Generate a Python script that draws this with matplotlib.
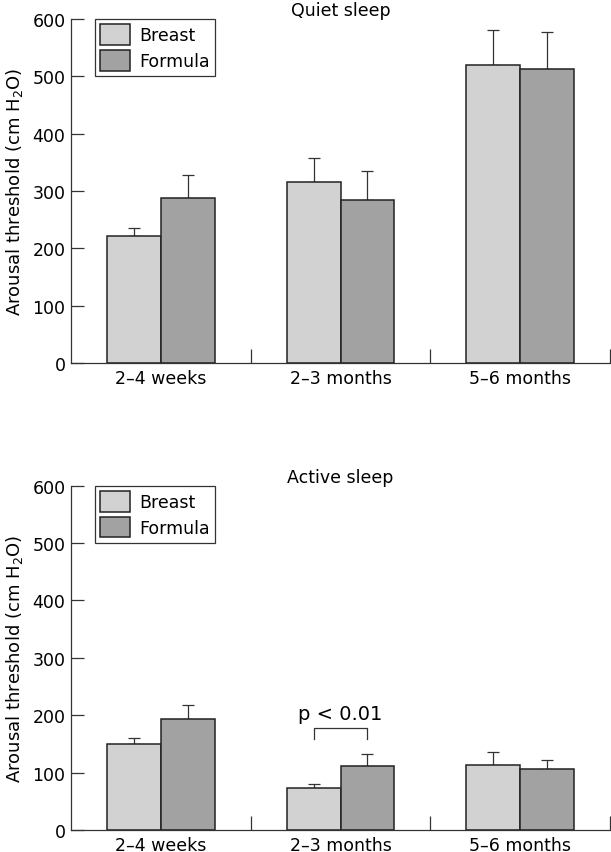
import numpy as np
import matplotlib.pyplot as plt

plt.rcParams['font.family'] = ['DejaVu Sans']
plt.rcParams['font.size'] = 12.5

groups = ['2\u20134 weeks', '2\u20133 months', '5\u20136 months']

# quiet sleep
quiet_breast = [221, 315, 520]
quiet_breast_err = [15, 43, 60]
quiet_formula = [288, 285, 512]
quiet_formula_err = [39, 49, 66]

# active sleep
active_breast = [149, 74, 114]
active_breast_err = [11, 6, 22]
active_formula = [193, 111, 107]
active_formula_err = [25, 21, 15]

breast_col = '#d2d2d2'
formula_col = '#a2a2a2'
edge = '#222222'
axcol = '#333333'


def panel(ax, title, breast, berr, formula, ferr):
    x = np.arange(len(groups))
    w = 0.3
    ax.bar(x - w/2, breast, w, color=breast_col, edgecolor=edge, linewidth=1.1,
           label='Breast', zorder=2)
    ax.bar(x + w/2, formula, w, color=formula_col, edgecolor=edge, linewidth=1.1,
           label='Formula', zorder=2)
    ax.errorbar(x - w/2, breast, yerr=[np.zeros(len(berr)), berr], fmt='none',
                ecolor=axcol, elinewidth=0.9, capsize=4.5, capthick=0.9, zorder=1)
    ax.errorbar(x + w/2, formula, yerr=[np.zeros(len(ferr)), ferr], fmt='none',
                ecolor=axcol, elinewidth=0.9, capsize=4.5, capthick=0.9, zorder=1)

    ax.set_xlim(-0.5, 2.5)
    ax.set_ylim(0, 600)
    ax.set_yticks(range(0, 601, 100))
    ax.set_xticks(x)
    ax.set_xticklabels(groups)
    ax.set_xticks([0.5, 1.5, 2.5], minor=True)
    ax.tick_params(axis='x', which='major', length=0, pad=4)
    ax.tick_params(axis='x', which='minor', direction='in', length=10,
                   color=axcol, width=0.9)
    ax.tick_params(axis='y', direction='in', length=9, color=axcol, width=0.9, pad=4)
    for s in ['top', 'right']:
        ax.spines[s].set_visible(False)
    for s in ['left', 'bottom']:
        ax.spines[s].set_color(axcol)
        ax.spines[s].set_linewidth(0.9)
    ax.set_title(title, fontsize=12.5, pad=0)
    ax.set_ylabel('Arousal threshold (cm H$_2$O)', fontsize=13, labelpad=5)
    leg = ax.legend(loc='upper left', bbox_to_anchor=(0.044, 1.0), borderaxespad=0,
                    fancybox=False, framealpha=1, edgecolor=axcol,
                    handlelength=1.72, handleheight=1.45, labelspacing=0.3,
                    borderpad=0.3, handletextpad=0.55, fontsize=12.5)
    leg.get_frame().set_linewidth(0.9)


fig = plt.figure(figsize=(6.11, 8.53), dpi=100)
ax1 = fig.add_axes([0.1162, 0.5733, 0.8822, 0.4033])
ax2 = fig.add_axes([0.1162, 0.0258, 0.8822, 0.4036])

panel(ax1, 'Quiet sleep', quiet_breast, quiet_breast_err, quiet_formula, quiet_formula_err)
panel(ax2, 'Active sleep', active_breast, active_breast_err, active_formula, active_formula_err)

# significance bracket, 2-3 months active sleep
ax2.plot([0.85, 0.85, 1.15, 1.15], [159, 178, 178, 159], color=axcol, linewidth=0.9)
ax2.text(1.0, 187, 'p < 0.01', ha='center', va='bottom', fontsize=14)

fig.savefig('out.png', dpi=100)
